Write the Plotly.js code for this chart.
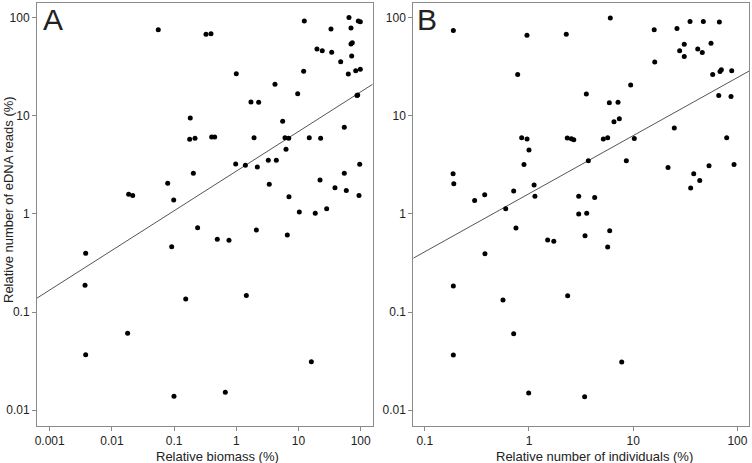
<!DOCTYPE html>
<html><head><meta charset="utf-8">
<script src="https://cdn.plot.ly/plotly-3.0.1.min.js"></script>
<style>html,body{margin:0;padding:0;background:#fff}#chart{width:752px;height:463px}</style>
</head><body><div id="chart"></div>
<script>
// Panel A: relative biomass (%) vs relative eDNA reads (%)
const biomassA = [0.0557,0.182,0.178,0.217,0.204,0.0789,0.0186,0.0216,0.0986,0.326,0.392,12.4,64.8,91.5,98.6,33.3,69.8,19.8,24.1,34.2,69.8,73.3,47.7,71.6,1.0,12.1,83.1,98.6,63.2,4.19,9.71,87.2,89.5,1.72,2.29,5.57,0.402,0.450,1.93,6.07,6.96,14.9,22.7,54.5,6.30,0.978,1.40,2.18,3.27,4.40,96.4,54.5,3.39,22.2,38.6,58.7,93.9,7.03,10.3,18.6,28.4,0.239,0.0915,0.00379,0.00370,0.154,0.0179,0.00379,0.0996,0.495,0.763,2.10,6.61,1.45,16.1,0.666];
const readsA = [75.6,9.52,5.77,5.91,2.60,2.06,1.59,1.54,1.39,67.9,68.9,92.8,101,92.8,91.2,76.9,78.7,48.1,46.2,44.5,54.1,55.8,35.7,40.8,26.9,28.5,28.9,29.9,26.7,21.0,16.8,16.1,16.3,13.9,13.8,8.81,6.09,6.09,5.99,5.99,5.91,5.99,5.91,7.65,4.57,3.23,3.14,3.01,3.53,3.53,3.21,2.60,2.01,2.22,1.85,1.74,1.54,1.50,1.05,1.02,1.13,0.725,0.464,0.397,0.188,0.136,0.0608,0.0368,0.0139,0.552,0.539,0.687,0.611,0.148,0.0312,0.0152];
// Panel B: relative number of individuals (%) vs relative eDNA reads (%)
const individualsB = [0.188,0.957,2.28,0.779,0.851,0.958,2.33,2.55,2.69,1.0,0.895,0.187,0.190,1.12,0.713,0.376,0.301,1.14,0.598,6.03,15.9,26.3,35.1,47.1,67.1,30.9,27.9,30.9,41.6,46.0,55.8,16.1,57.9,68.1,70.1,88.2,9.46,3.55,66.2,86.8,5.90,7.15,6.54,7.36,5.17,5.69,10.25,24.8,78.9,3.71,8.59,21.6,53.4,92.8,38.1,43.5,35.6,3.00,4.27,3.00,3.58,0.750,1.51,1.73,0.378,0.188,0.563,2.35,0.713,0.188,0.993,3.45,5.95,5.69,7.76,3.42];
const readsB = [74.2,66.6,68.2,26.4,5.98,5.80,5.94,5.84,5.71,4.48,3.20,2.57,2.03,1.97,1.72,1.57,1.37,1.52,1.13,99.3,75.5,77.8,91.7,91.7,90.4,53.9,46.1,40.3,48.0,44.3,55.2,35.4,26.4,28.4,29.5,28.8,20.6,16.7,16.1,15.8,13.6,13.8,8.71,9.34,5.80,5.98,5.88,7.51,5.98,3.49,3.49,2.98,3.10,3.20,2.57,2.19,1.84,1.52,1.47,1.00,1.02,0.718,0.542,0.529,0.393,0.184,0.133,0.147,0.0601,0.0365,0.0150,0.600,0.674,0.460,0.0309,0.0137];
// Fitted log-log regression lines: log10(y) = intercept + slope*log10(x)
const fitA = {intercept: 0.437, slope: 0.404};
const fitB = {intercept: 0.207, slope: 0.592};
const xTicksA = [0.001,0.01,0.1,1,10,100];
const xTickTextA = ['0.001','0.01','0.1','1','10','100'];
const xTicksB = [0.1,1,10,100];
const xTickTextB = ['0.1','1','10','100'];
const yTicks = [0.01,0.1,1,10,100];
const yTickText = ['0.01','0.1','1','10','100'];
const titleXA = 'Relative biomass (%)';
const titleXB = 'Relative number of individuals (%)';
const titleY = 'Relative number of eDNA reads (%)';
const panelLabels = ['A','B'];

const xRangeA = [-3.204, 2.193];
const xRangeB = [-1.110, 2.114];
const yRange = [-2.158, 2.151];

function fitLine(fit, range){
  const xs = [Math.pow(10, range[0]), Math.pow(10, range[1])];
  const ys = xs.map(x => Math.pow(10, fit.intercept + fit.slope*Math.log10(x)));
  return {xs, ys};
}
const lA = fitLine(fitA, xRangeA), lB = fitLine(fitB, xRangeB);

const fam = '"Liberation Sans", Arial, sans-serif';
const font = {family:fam, size:12, color:'#222'};
const tfont = {family:fam, size:13, color:'#222'};
const mk = {color:'#000', size:5};
const traces = [
  {x: lA.xs, y: lA.ys, mode:'lines', line:{color:'#555', width:1}, xaxis:'x', yaxis:'y', hoverinfo:'skip'},
  {x: biomassA, y: readsA, mode:'markers', marker: mk, xaxis:'x', yaxis:'y'},
  {x: lB.xs, y: lB.ys, mode:'lines', line:{color:'#555', width:1}, xaxis:'x2', yaxis:'y2', hoverinfo:'skip'},
  {x: individualsB, y: readsB, mode:'markers', marker: mk, xaxis:'x2', yaxis:'y2'}
];
const axBase = {type:'log', showgrid:false, zeroline:false, showline:true, mirror:true,
  linecolor:'#8a8a8a', linewidth:1, ticks:'outside', ticklen:4, tickcolor:'#8a8a8a', tickfont:font};
const layout = {
  width:752, height:463, showlegend:false, paper_bgcolor:'#fff', plot_bgcolor:'#fff', font:font,
  margin:{l:0,r:0,t:0,b:0},
  xaxis: Object.assign({}, axBase, {domain:[0.0492,0.4956], range:xRangeA, tickvals:xTicksA, ticktext:xTickTextA, anchor:'y'}),
  yaxis: Object.assign({}, axBase, {domain:[0.0806,0.9935], range:yRange, tickvals:yTicks, ticktext:yTickText, anchor:'x'}),
  xaxis2: Object.assign({}, axBase, {domain:[0.5496,0.9964], range:xRangeB, tickvals:xTicksB, ticktext:xTickTextB, anchor:'y2'}),
  yaxis2: Object.assign({}, axBase, {domain:[0.0806,0.9935], range:yRange, tickvals:yTicks, ticktext:yTickText, anchor:'x2'}),
  annotations: [
    {text:titleXA, xref:'paper', yref:'paper', x:217/752, y:(463-456)/463, xanchor:'center', yanchor:'middle', showarrow:false, font:tfont, borderpad:0},
    {text:titleXB, xref:'paper', yref:'paper', x:594/752, y:(463-456)/463, xanchor:'center', yanchor:'middle', showarrow:false, font:tfont, borderpad:0},
    {text:titleY, xref:'paper', yref:'paper', x:8/752, y:(463-200)/463, xanchor:'center', yanchor:'middle', textangle:-90, showarrow:false, font:tfont},
    {text:panelLabels[0], xref:'paper', yref:'paper', x:0.0545, y:0.997, xanchor:'left', yanchor:'top', showarrow:false,
      font:{family:fam, size:30, color:'#222'}},
    {text:panelLabels[1], xref:'paper', yref:'paper', x:0.552, y:0.997, xanchor:'left', yanchor:'top', showarrow:false,
      font:{family:fam, size:30, color:'#222'}}
  ]
};
Plotly.newPlot('chart', traces, layout, {displayModeBar:false, staticPlot:true});
</script></body></html>
